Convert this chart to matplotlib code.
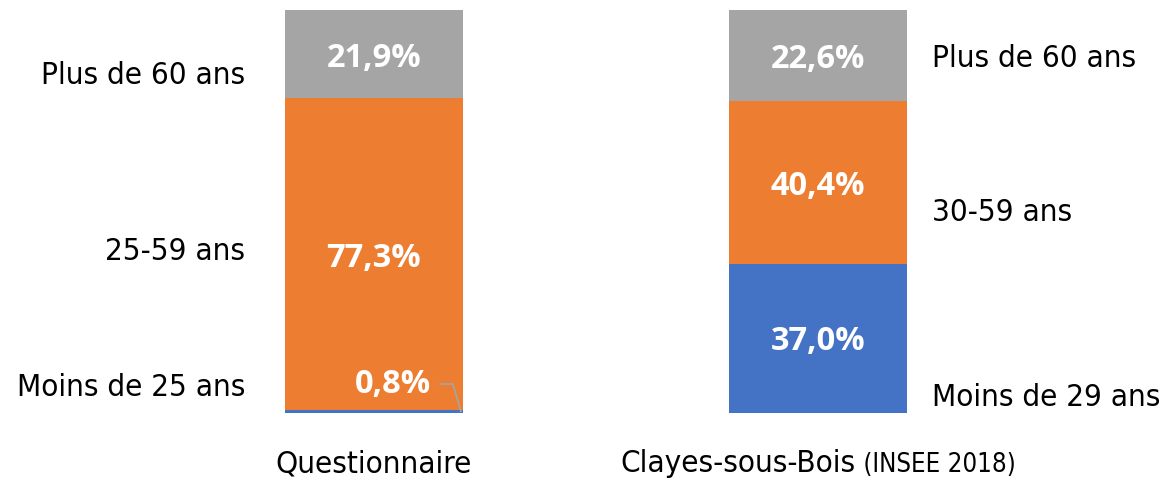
import matplotlib
matplotlib.use("Agg")
import matplotlib.pyplot as plt
import numpy as np

categories = ["Questionnaire", "Clayes-sous-Bois"]
category_suffix = ["", "(INSEE 2018)"]
young = [0.8, 37.0]
middle = [77.3, 40.4]
old = [21.9, 22.6]
young_labels = ["Moins de 25 ans", "Moins de 29 ans"]
middle_labels = ["25-59 ans", "30-59 ans"]
old_labels = ["Plus de 60 ans", "Plus de 60 ans"]

colors = {"young": "#4472C4", "middle": "#ED7D31", "old": "#A5A5A5"}

W, H = 1167, 481
fig = plt.figure(figsize=(W / 100, H / 100), dpi=100)
ax = fig.add_axes([0, (H - 414) / H, 1, 403 / H])
ax.set_xlim(-0.842, 1.786)
ax.set_ylim(0, 100)
ax.axis("off")

x = np.arange(len(categories))
width = 0.401
ax.bar(x, young, width, color=colors["young"])
ax.bar(x, middle, width, bottom=young, color=colors["middle"])
bottom2 = np.array(young) + np.array(middle)
ax.bar(x, old, width, bottom=bottom2, color=colors["old"])

lab_font = dict(family=["DejaVu Sans"], fontstretch="condensed", fontsize=22.5, color="black")
val_font = dict(family=["Open Sans", "DejaVu Sans"], fontsize=23.5, fontweight="bold", color="white")

def fmt(v):
    return f"{v:.1f}%".replace(".", ",")

# value labels
for i in range(len(categories)):
    ax.text(x[i], bottom2[i] + old[i] / 2 - 0.8, fmt(old[i]), ha="center", va="center", **val_font)
    ax.text(x[i], young[i] + middle[i] / 2 - 0.8, fmt(middle[i]), ha="center", va="center", **val_font)
    if young[i] >= 5:
        ax.text(x[i], young[i] / 2 - 0.5, fmt(young[i]), ha="center", va="center", **val_font)
    else:
        tx, ty = x[i] + 0.043, 7.2
        ax.text(tx, ty, fmt(young[i]), ha="center", va="center", **val_font)
        ax.plot([tx + 0.106, tx + 0.135, tx + 0.153], [ty, ty, young[i] / 2],
                color="#A5A5A5", lw=1.2, solid_joinstyle="miter")

# side labels (left of first bar, right of second)
ax.text(x[0] - 0.29, 84.1, old_labels[0], ha="right", va="center", **lab_font)
ax.text(x[0] - 0.29, 40.4, middle_labels[0], ha="right", va="center", **lab_font)
ax.text(x[0] - 0.29, 6.5, young_labels[0], ha="right", va="center", **lab_font)
ax.text(x[1] + 0.257, 88.3, old_labels[1], ha="left", va="center", **lab_font)
ax.text(x[1] + 0.257, 49.9, middle_labels[1], ha="left", va="center", **lab_font)
ax.text(x[1] + 0.257, 4.2, young_labels[1], ha="left", va="center", **lab_font)

# category labels
fig.canvas.draw()
renderer = fig.canvas.get_renderer()
for i in range(len(categories)):
    t1 = ax.text(x[i], -12.4, categories[i], ha="center", va="center", **lab_font)
    if category_suffix[i]:
        t2 = ax.text(x[i], -12.6, " " + category_suffix[i], ha="left", va="center",
                     family=lab_font["family"], fontstretch="condensed", fontsize=18.5, color="black")
        w1 = t1.get_window_extent(renderer).width
        w2 = t2.get_window_extent(renderer).width
        xc = ax.transData.transform((x[i], 0))[0]
        left = xc - (w1 + w2) / 2
        inv = ax.transData.inverted()
        t1.set_ha("left")
        t1.set_x(inv.transform((left, 0))[0])
        t2.set_x(inv.transform((left + w1, 0))[0])

fig.savefig("out.png", dpi=100)
